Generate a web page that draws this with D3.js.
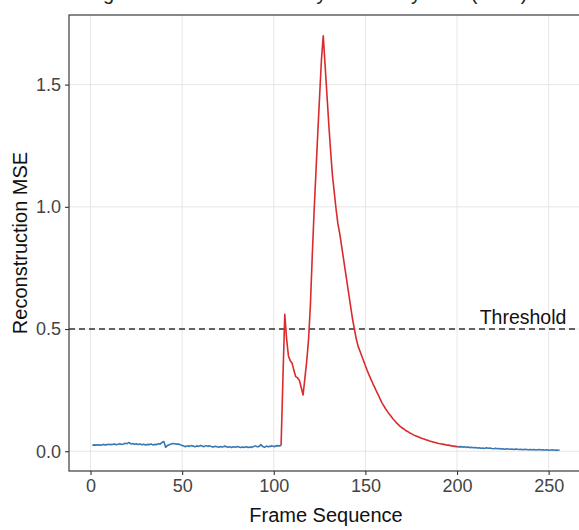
<!DOCTYPE html>
<html lang="en">
<head>
<meta charset="UTF-8">
<title>Reconstruction MSE by Frame</title>
<script src="https://d3js.org/d3.v7.min.js"></script>
<style>
    body { margin: 0; background: #ffffff; }
    svg { display: block; font-family: "Liberation Sans", Arial, sans-serif; }
</style>
</head>
<body>
<div id="chart"></div>
<script>
    // frame numbers start at 1, one value per frame
    const firstFrame = 1;
    const mse = [
        0.024, 0.026, 0.025, 0.027, 0.025, 0.026, 0.028, 0.026, 0.027, 0.029,
        0.027, 0.028, 0.030, 0.027, 0.029, 0.031, 0.028, 0.030, 0.033, 0.031,
        0.036, 0.030, 0.032, 0.029, 0.031, 0.028, 0.030, 0.027, 0.029, 0.026,
        0.028, 0.027, 0.030, 0.026, 0.028, 0.027, 0.031, 0.029, 0.036, 0.040,
        0.016, 0.024, 0.027, 0.030, 0.032, 0.031, 0.029, 0.030, 0.027, 0.024,
        0.021, 0.019, 0.022, 0.020, 0.023, 0.021, 0.018, 0.022, 0.020, 0.024,
        0.021, 0.019, 0.023, 0.020, 0.022, 0.019, 0.017, 0.020, 0.018, 0.016,
        0.019, 0.017, 0.021, 0.019, 0.016, 0.018, 0.015, 0.018, 0.016, 0.019,
        0.017, 0.015, 0.017, 0.016, 0.018, 0.015, 0.017, 0.016, 0.019, 0.022,
        0.018, 0.020, 0.027, 0.019, 0.016, 0.021, 0.018, 0.020, 0.022, 0.019,
        0.021, 0.023, 0.022, 0.024, 0.30, 0.56, 0.46, 0.39, 0.37, 0.36,
        0.33, 0.305, 0.30, 0.29, 0.26, 0.23, 0.30, 0.37, 0.46, 0.60,
        0.80, 0.98, 1.14, 1.30, 1.45, 1.60, 1.70, 1.58, 1.46, 1.34,
        1.23, 1.13, 1.06, 0.99, 0.93, 0.89, 0.84, 0.79, 0.74, 0.69,
        0.64, 0.59, 0.54, 0.50, 0.46, 0.43, 0.41, 0.39, 0.37, 0.35,
        0.33, 0.312, 0.295, 0.278, 0.262, 0.246, 0.231, 0.214, 0.199, 0.186,
        0.174, 0.163, 0.152, 0.143, 0.133, 0.125, 0.116, 0.109, 0.102, 0.096,
        0.091, 0.085, 0.081, 0.076, 0.072, 0.068, 0.064, 0.061, 0.058, 0.055,
        0.052, 0.050, 0.047, 0.045, 0.042, 0.040, 0.038, 0.036, 0.034, 0.032,
        0.031, 0.029, 0.028, 0.026, 0.025, 0.024, 0.022, 0.021, 0.020, 0.019,
        0.018, 0.019, 0.017, 0.018, 0.016, 0.017, 0.015, 0.016, 0.014, 0.015,
        0.013, 0.014, 0.012, 0.013, 0.011, 0.014, 0.012, 0.013, 0.011, 0.010,
        0.012, 0.010, 0.011, 0.009, 0.010, 0.008, 0.010, 0.009, 0.008, 0.009,
        0.007, 0.009, 0.008, 0.007, 0.008, 0.006, 0.008, 0.007, 0.006, 0.007,
        0.006, 0.007, 0.005, 0.006, 0.007, 0.005, 0.006, 0.005, 0.006, 0.004,
        0.005, 0.006, 0.004, 0.005, 0.004, 0.005
    ];
    // frames flagged as anomalous (drawn red)
    const anomalyStart = 104;
    const anomalyEnd = 200;
    const threshold = 0.5;
    const thresholdLabel = "Threshold";
    const xTicks = [0, 50, 100, 150, 200, 250];
    const yTicks = [0, 0.5, 1.0, 1.5];
    const titleText = "Surgical Instrument Anomaly Scores by VAE (MSE)";

    const width = 579, height = 530;
    const panel = { left: 69, right: 583, top: 15, bottom: 471 };
    const colNormal = "#3a78b0";
    const colAnomaly = "#db2a2c";

    const data = mse.map((v, i) => ({ frame: firstFrame + i, value: v }));

    const svg = d3.select("#chart").append("svg")
        .attr("width", width)
        .attr("height", height);

    svg.append("rect").attr("width", width).attr("height", height).attr("fill", "#fff");

    // ggplot style 5% expansion
    const xExt = d3.extent(data, d => d.frame);
    const xPad = (xExt[1] - xExt[0]) * 0.05;
    const x = d3.scaleLinear()
        .domain([xExt[0] - xPad, xExt[1] + xPad])
        .range([panel.left, panel.right]);

    const yExt = d3.extent(data, d => d.value);
    const yPad = (yExt[1] - yExt[0]) * 0.05;
    const y = d3.scaleLinear()
        .domain([yExt[0] - yPad, yExt[1] + yPad])
        .range([panel.bottom, panel.top]);

    // title, cropped at the top edge like the source image
    svg.append("text")
        .attr("x", 72)
        .attr("y", -0.5)
        .attr("font-size", "20px")
        .attr("fill", "#222")
        .text(titleText);

    // grid
    const grid = svg.append("g");
    grid.selectAll(".gx").data(xTicks).enter().append("line")
        .attr("x1", d => x(d)).attr("x2", d => x(d))
        .attr("y1", panel.top).attr("y2", panel.bottom)
        .attr("stroke", "#e6e6e6").attr("stroke-width", 1);
    grid.selectAll(".gy").data(yTicks).enter().append("line")
        .attr("x1", panel.left).attr("x2", panel.right)
        .attr("y1", d => y(d)).attr("y2", d => y(d))
        .attr("stroke", "#e6e6e6").attr("stroke-width", 1);

    // threshold
    svg.append("line")
        .attr("x1", panel.left).attr("x2", panel.right)
        .attr("y1", y(threshold)).attr("y2", y(threshold))
        .attr("stroke", "#333").attr("stroke-width", 1.5)
        .attr("stroke-dasharray", "6,4");

    svg.append("text")
        .attr("x", x(236))
        .attr("y", y(threshold) - 5)
        .attr("text-anchor", "middle")
        .attr("font-size", "19.5px")
        .attr("fill", "#111")
        .text(thresholdLabel);

    // lines
    const line = d3.line().x(d => x(d.frame)).y(d => y(d.value));
    const before = data.filter(d => d.frame <= anomalyStart);
    const during = data.filter(d => d.frame >= anomalyStart && d.frame <= anomalyEnd);
    const after = data.filter(d => d.frame >= anomalyEnd);

    [before, after].forEach(seg => {
        svg.append("path").datum(seg)
            .attr("d", line)
            .attr("fill", "none")
            .attr("stroke", colNormal)
            .attr("stroke-width", 1.6)
            .attr("stroke-linejoin", "round");
    });
    svg.append("path").datum(during)
        .attr("d", line)
        .attr("fill", "none")
        .attr("stroke", colAnomaly)
        .attr("stroke-width", 1.6)
        .attr("stroke-linejoin", "round");

    // panel border
    svg.append("rect")
        .attr("x", panel.left).attr("y", panel.top)
        .attr("width", panel.right - panel.left)
        .attr("height", panel.bottom - panel.top)
        .attr("fill", "none")
        .attr("stroke", "#3a3a3a")
        .attr("stroke-width", 1.2);

    // axes
    const xAxis = svg.append("g")
        .attr("transform", `translate(0,${panel.bottom})`)
        .call(d3.axisBottom(x).tickValues(xTicks).tickSize(4).tickPadding(4));
    const yAxis = svg.append("g")
        .attr("transform", `translate(${panel.left},0)`)
        .call(d3.axisLeft(y).tickValues(yTicks).tickFormat(d3.format(".1f")).tickSize(4).tickPadding(4));

    [xAxis, yAxis].forEach(g => {
        g.select(".domain").remove();
        g.selectAll(".tick line").attr("stroke", "#333").attr("stroke-width", 1.1);
        g.selectAll(".tick text")
            .attr("fill", "#444")
            .attr("font-size", "18px")
            .attr("font-family", "Liberation Sans, Arial, sans-serif");
    });

    // axis titles
    svg.append("text")
        .attr("x", (panel.left + panel.right) / 2)
        .attr("y", 522)
        .attr("text-anchor", "middle")
        .attr("font-size", "20px")
        .attr("fill", "#111")
        .text("Frame Sequence");

    svg.append("text")
        .attr("transform", `translate(27,${(panel.top + panel.bottom) / 2}) rotate(-90)`)
        .attr("text-anchor", "middle")
        .attr("font-size", "20px")
        .attr("fill", "#111")
        .text("Reconstruction MSE");
</script>
</body>
</html>
